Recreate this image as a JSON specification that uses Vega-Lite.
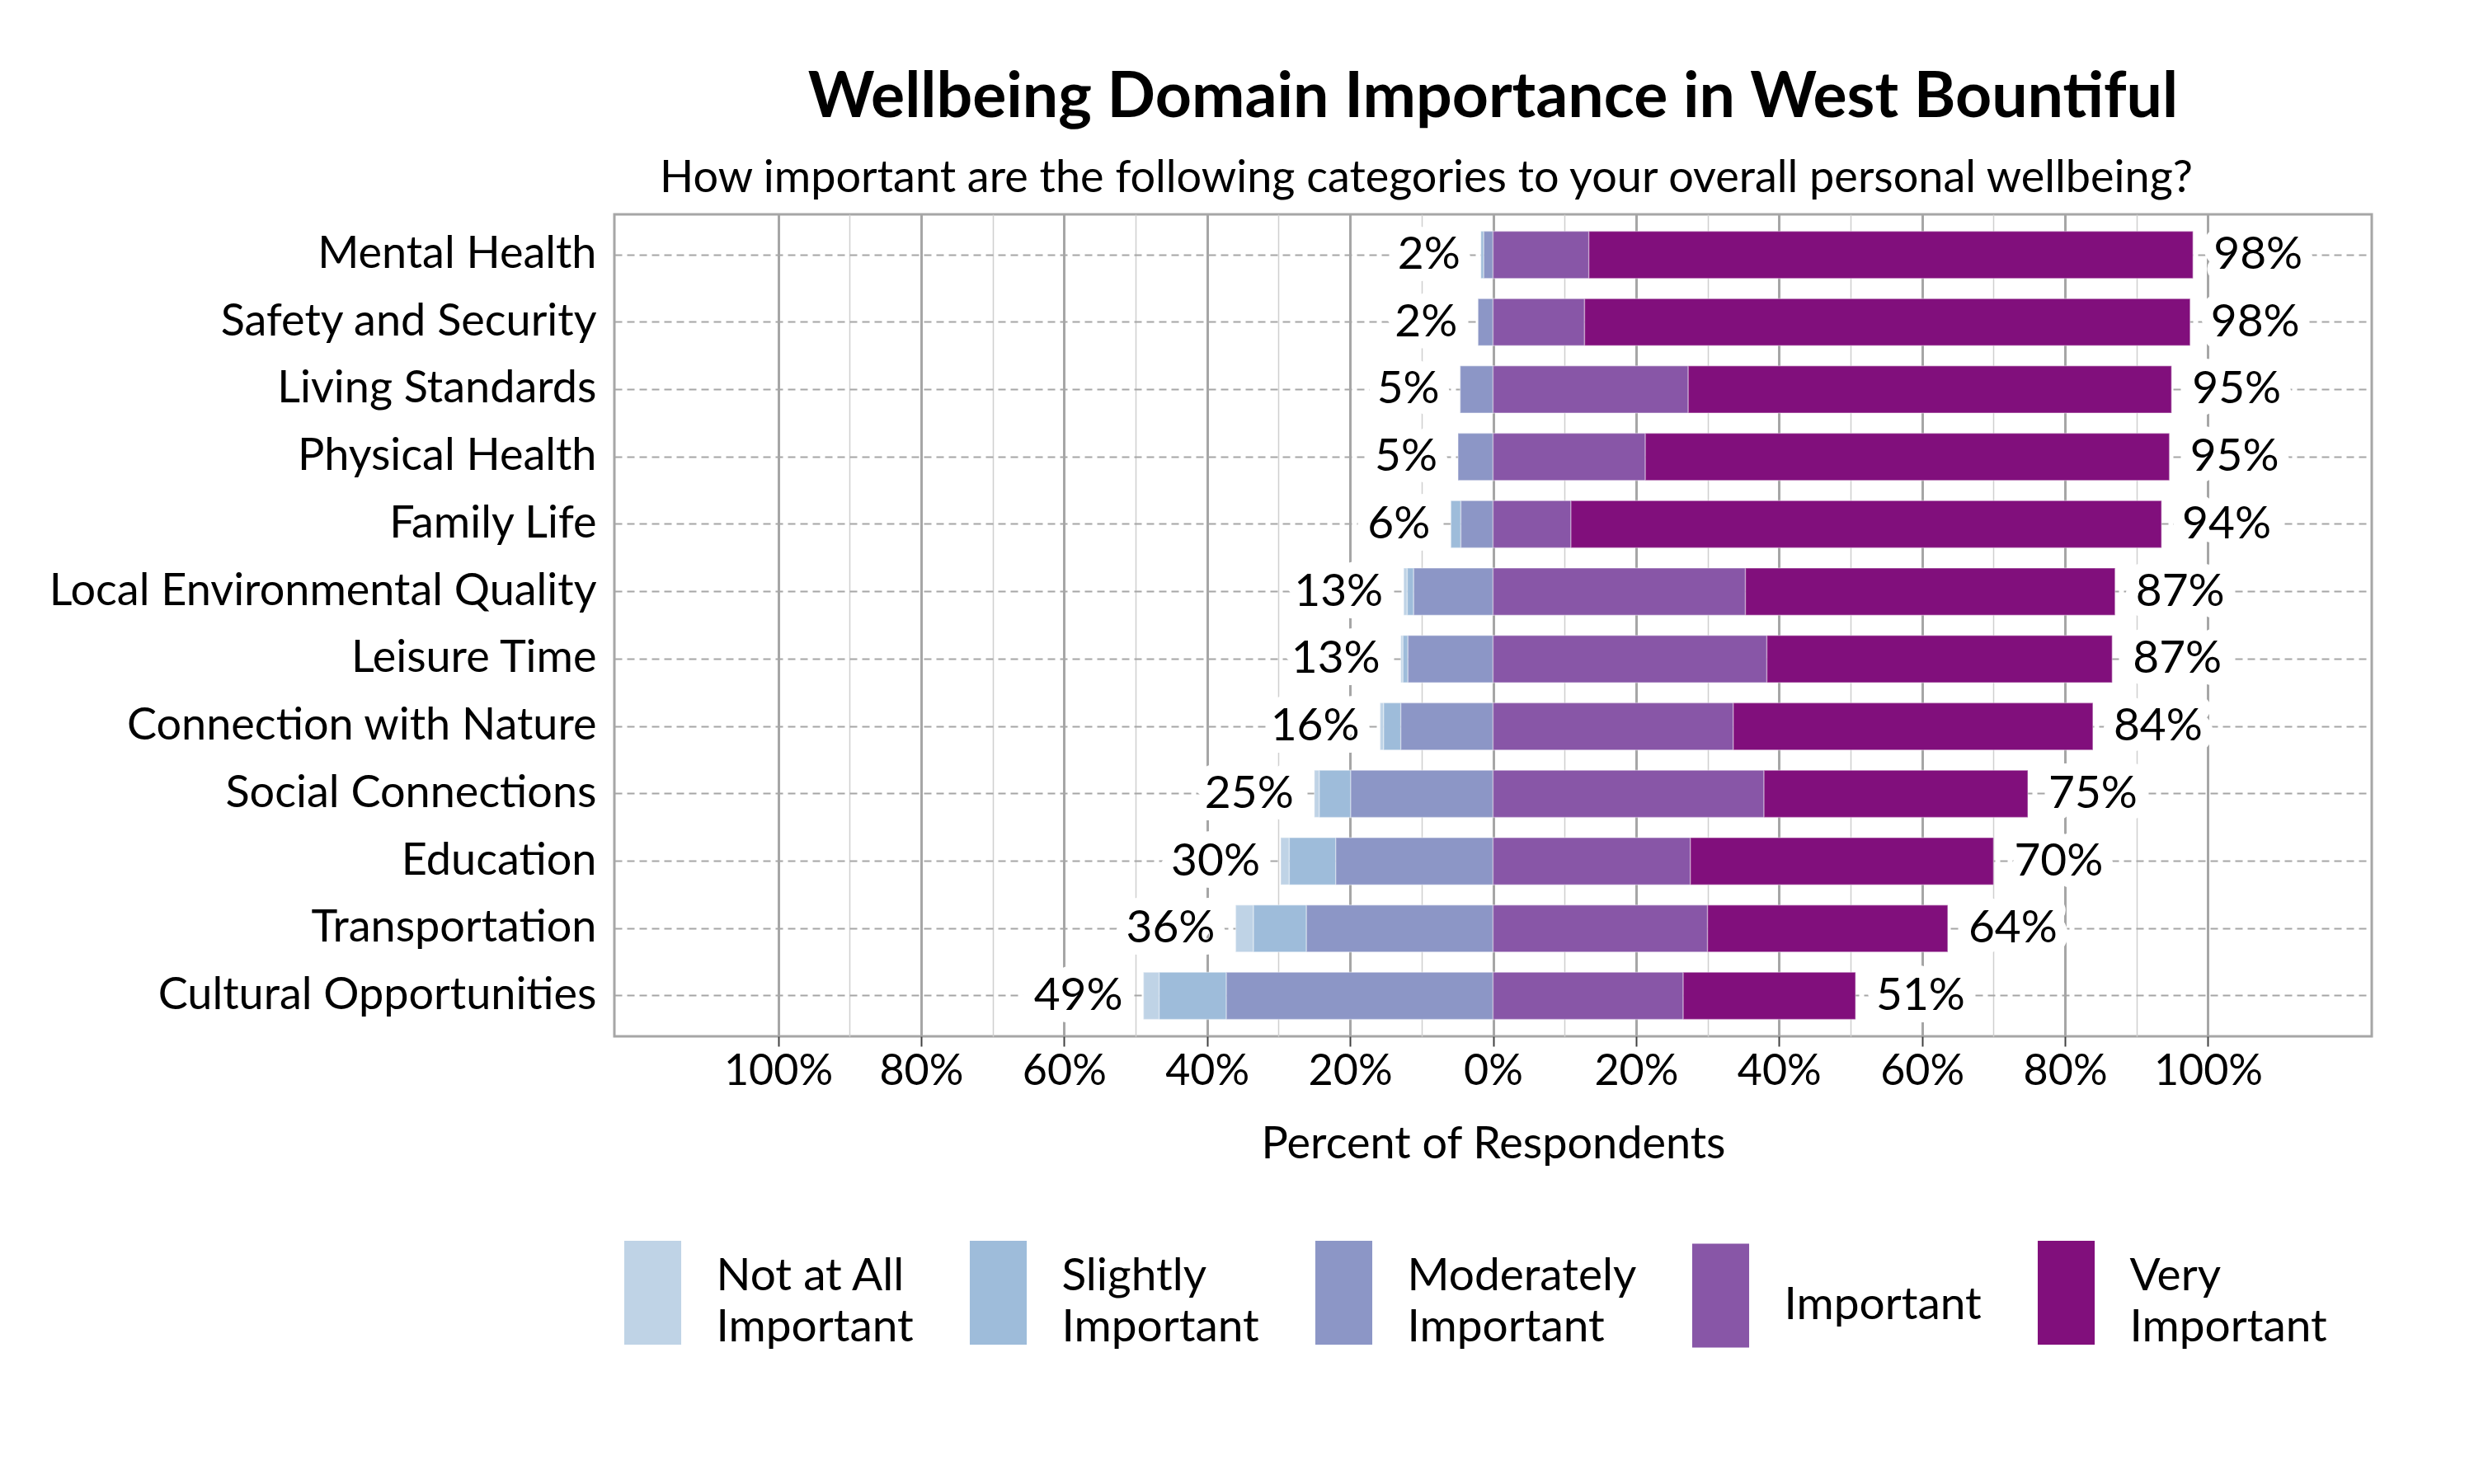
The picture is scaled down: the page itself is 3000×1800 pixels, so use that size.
{
  "$schema": "https://vega.github.io/schema/vega-lite/v6.json",
  "width": 2131,
  "height": 997,
  "autosize": {"type": "none"},
  "padding": {"left": 745, "top": 260, "right": 124, "bottom": 543},
  "background": "white",
  "config": {
    "font": "Lato",
    "view": {"stroke": "#a6a6a6", "strokeWidth": 3},
    "style": {"guide-label": {"lineHeight": 62}}
  },
  "title": {
    "text": "Wellbeing Domain Importance in West Bountiful",
    "font": "Lato",
    "fontSize": 77,
    "fontWeight": "bold",
    "color": "black",
    "anchor": "middle",
    "frame": "group",
    "offset": 31
  },
  "resolve": {"axis": {"x": "independent"}},
  "datasets": {
    "likert": [
      {"category": "Mental Health", "level": "Slightly Important", "code": 2, "pct": -0.4},
      {"category": "Mental Health", "level": "Moderately Important", "code": 3, "pct": -1.3},
      {"category": "Mental Health", "level": "Important", "code": 4, "pct": 13.4},
      {"category": "Mental Health", "level": "Very Important", "code": 5, "pct": 84.5},
      {"category": "Safety and Security", "level": "Moderately Important", "code": 3, "pct": -2.1},
      {"category": "Safety and Security", "level": "Important", "code": 4, "pct": 12.8},
      {"category": "Safety and Security", "level": "Very Important", "code": 5, "pct": 84.7},
      {"category": "Living Standards", "level": "Moderately Important", "code": 3, "pct": -4.6},
      {"category": "Living Standards", "level": "Important", "code": 4, "pct": 27.3},
      {"category": "Living Standards", "level": "Very Important", "code": 5, "pct": 67.6},
      {"category": "Physical Health", "level": "Moderately Important", "code": 3, "pct": -4.9},
      {"category": "Physical Health", "level": "Important", "code": 4, "pct": 21.3},
      {"category": "Physical Health", "level": "Very Important", "code": 5, "pct": 73.3},
      {"category": "Family Life", "level": "Slightly Important", "code": 2, "pct": -1.4},
      {"category": "Family Life", "level": "Moderately Important", "code": 3, "pct": -4.5},
      {"category": "Family Life", "level": "Important", "code": 4, "pct": 10.9},
      {"category": "Family Life", "level": "Very Important", "code": 5, "pct": 82.6},
      {"category": "Local Environmental Quality", "level": "Not at All Important", "code": 1, "pct": -0.5},
      {"category": "Local Environmental Quality", "level": "Slightly Important", "code": 2, "pct": -0.9},
      {"category": "Local Environmental Quality", "level": "Moderately Important", "code": 3, "pct": -11.1},
      {"category": "Local Environmental Quality", "level": "Important", "code": 4, "pct": 35.3},
      {"category": "Local Environmental Quality", "level": "Very Important", "code": 5, "pct": 51.7},
      {"category": "Leisure Time", "level": "Not at All Important", "code": 1, "pct": -0.3},
      {"category": "Leisure Time", "level": "Slightly Important", "code": 2, "pct": -0.7},
      {"category": "Leisure Time", "level": "Moderately Important", "code": 3, "pct": -11.9},
      {"category": "Leisure Time", "level": "Important", "code": 4, "pct": 38.3},
      {"category": "Leisure Time", "level": "Very Important", "code": 5, "pct": 48.3},
      {"category": "Connection with Nature", "level": "Not at All Important", "code": 1, "pct": -0.5},
      {"category": "Connection with Nature", "level": "Slightly Important", "code": 2, "pct": -2.4},
      {"category": "Connection with Nature", "level": "Moderately Important", "code": 3, "pct": -12.9},
      {"category": "Connection with Nature", "level": "Important", "code": 4, "pct": 33.6},
      {"category": "Connection with Nature", "level": "Very Important", "code": 5, "pct": 50.3},
      {"category": "Social Connections", "level": "Not at All Important", "code": 1, "pct": -0.7},
      {"category": "Social Connections", "level": "Slightly Important", "code": 2, "pct": -4.4},
      {"category": "Social Connections", "level": "Moderately Important", "code": 3, "pct": -19.9},
      {"category": "Social Connections", "level": "Important", "code": 4, "pct": 37.9},
      {"category": "Social Connections", "level": "Very Important", "code": 5, "pct": 36.9},
      {"category": "Education", "level": "Not at All Important", "code": 1, "pct": -1.2},
      {"category": "Education", "level": "Slightly Important", "code": 2, "pct": -6.5},
      {"category": "Education", "level": "Moderately Important", "code": 3, "pct": -22.0},
      {"category": "Education", "level": "Important", "code": 4, "pct": 27.6},
      {"category": "Education", "level": "Very Important", "code": 5, "pct": 42.4},
      {"category": "Transportation", "level": "Not at All Important", "code": 1, "pct": -2.5},
      {"category": "Transportation", "level": "Slightly Important", "code": 2, "pct": -7.4},
      {"category": "Transportation", "level": "Moderately Important", "code": 3, "pct": -26.1},
      {"category": "Transportation", "level": "Important", "code": 4, "pct": 30.0},
      {"category": "Transportation", "level": "Very Important", "code": 5, "pct": 33.6},
      {"category": "Cultural Opportunities", "level": "Not at All Important", "code": 1, "pct": -2.2},
      {"category": "Cultural Opportunities", "level": "Slightly Important", "code": 2, "pct": -9.4},
      {"category": "Cultural Opportunities", "level": "Moderately Important", "code": 3, "pct": -37.3},
      {"category": "Cultural Opportunities", "level": "Important", "code": 4, "pct": 26.6},
      {"category": "Cultural Opportunities", "level": "Very Important", "code": 5, "pct": 24.1}
    ],
    "totals": [
      {"category": "Mental Health", "negLabel": "2%", "posLabel": "98%"},
      {"category": "Safety and Security", "negLabel": "2%", "posLabel": "98%"},
      {"category": "Living Standards", "negLabel": "5%", "posLabel": "95%"},
      {"category": "Physical Health", "negLabel": "5%", "posLabel": "95%"},
      {"category": "Family Life", "negLabel": "6%", "posLabel": "94%"},
      {"category": "Local Environmental Quality", "negLabel": "13%", "posLabel": "87%"},
      {"category": "Leisure Time", "negLabel": "13%", "posLabel": "87%"},
      {"category": "Connection with Nature", "negLabel": "16%", "posLabel": "84%"},
      {"category": "Social Connections", "negLabel": "25%", "posLabel": "75%"},
      {"category": "Education", "negLabel": "30%", "posLabel": "70%"},
      {"category": "Transportation", "negLabel": "36%", "posLabel": "64%"},
      {"category": "Cultural Opportunities", "negLabel": "49%", "posLabel": "51%"}
    ]
  },
  "layer": [
    {
      "data": {"name": "likert"},
      "transform": [{"filter": "datum.pct < 0"}],
      "mark": {"type": "bar", "stroke": "white", "strokeWidth": 1.5, "strokeOpacity": 0.35},
      "encoding": {
        "x": {
          "field": "pct", "type": "quantitative", "stack": "zero",
          "title": "Percent of Respondents",
          "scale": {"domain": [-122.9, 122.9], "nice": false, "zero": false},
          "axis": {
            "values": [-100, -90, -80, -70, -60, -50, -40, -30, -20, -10, 0, 10, 20, 30, 40, 50, 60, 70, 80, 90, 100],
            "labelExpr": "datum.value % 20 == 0 ? abs(datum.value) + '%' : ''",
            "labelFontSize": 52,
            "labelColor": "black",
            "labelPadding": 5,
            "labelFlush": false,
            "labelOverlap": false,
            "titleFontSize": 54,
            "titleFontWeight": "normal",
            "titleColor": "black",
            "titlePadding": 36,
            "domain": false,
            "tickSize": 12,
            "tickWidth": 2,
            "tickColor": {"condition": {"test": "datum.value % 20 == 0", "value": "#404040"}, "value": "rgba(0,0,0,0)"},
            "grid": true,
            "gridColor": {"condition": {"test": "datum.value % 20 == 0", "value": "#a6a6a6"}, "value": "#cfcfcf"},
            "gridWidth": {"condition": {"test": "datum.value % 20 == 0", "value": 3}, "value": 1.5}
          }
        },
        "y": {
          "field": "category", "type": "nominal", "title": null,
          "sort": ["Mental Health", "Safety and Security", "Living Standards", "Physical Health", "Family Life", "Local Environmental Quality", "Leisure Time", "Connection with Nature", "Social Connections", "Education", "Transportation", "Cultural Opportunities"],
          "scale": {"paddingInner": 0.3, "paddingOuter": 0.25},
          "axis": {
            "ticks": false,
            "domain": false,
            "labelFontSize": 54,
            "labelColor": "black",
            "labelPadding": 22,
            "labelLimit": 900,
            "grid": true,
            "bandPosition": 0.5,
            "gridDash": [9, 6],
            "gridColor": "#a6a6a6",
            "gridWidth": 2
          }
        },
        "color": {
          "field": "level", "type": "nominal",
          "scale": {
            "domain": ["Not at All Important", "Slightly Important", "Moderately Important", "Important", "Very Important"],
            "range": ["#bfd3e6", "#9ebcda", "#8c96c6", "#8856a7", "#810f7c"]
          },
          "legend": {
            "orient": "none",
            "legendX": -16.5,
            "legendY": 1257,
            "direction": "horizontal",
            "title": null,
            "padding": 0,
            "symbolType": "M-0.548,-1.19H0.548V0.81H-0.548Z",
            "symbolSize": 15876,
            "symbolStrokeWidth": 0,
            "symbolOpacity": 1,
            "labelFontSize": 55,
            "labelColor": "black",
            "labelOffset": 14,
            "columnPadding": 39,
            "labelLimit": 600,
            "labelBaseline": {"expr": "datum.label == 'Important' ? 'middle' : 'line-bottom'"},
            "labelExpr": "split(replace(datum.label, ' Important', '|Important'), '|')"
          }
        },
        "order": {"field": "code", "type": "quantitative", "sort": "descending"}
      }
    },
    {
      "data": {"name": "likert"},
      "transform": [{"filter": "datum.pct > 0"}],
      "mark": {"type": "bar", "stroke": "white", "strokeWidth": 1.5, "strokeOpacity": 0.35},
      "encoding": {
        "x": {"field": "pct", "type": "quantitative", "stack": "zero", "axis": null, "scale": {"domain": [-122.9, 122.9], "nice": false, "zero": false}},
        "y": {"field": "category", "type": "nominal", "title": null, "sort": ["Mental Health", "Safety and Security", "Living Standards", "Physical Health", "Family Life", "Local Environmental Quality", "Leisure Time", "Connection with Nature", "Social Connections", "Education", "Transportation", "Cultural Opportunities"]},
        "color": {"field": "level", "type": "nominal"},
        "order": {"field": "code", "type": "quantitative", "sort": "ascending"}
      }
    },
    {
      "mark": {"type": "rule", "color": "#5a5a5a", "strokeWidth": 2.5},
      "encoding": {
        "x": {
          "datum": 0, "type": "quantitative",
          "scale": {"domain": [-122.9, 122.9], "nice": false, "zero": false},
          "axis": {
            "orient": "top",
            "title": "How important are the following categories to your overall personal wellbeing?",
            "titleFontSize": 54,
            "titleFontWeight": "normal",
            "titleColor": "black",
            "titlePadding": 17,
            "titleX": 984,
            "titleAlign": "center",
            "labels": false,
            "ticks": false,
            "domain": false,
            "grid": false
          }
        }
      }
    },
    {
      "data": {"name": "likert"},
      "transform": [
        {"filter": "datum.pct < 0"},
        {"aggregate": [{"op": "sum", "field": "pct", "as": "pct"}], "groupby": ["category"]},
        {"lookup": "category", "from": {"data": {"name": "totals"}, "key": "category", "fields": ["negLabel"]}}
      ],
      "mark": {"type": "text", "align": "right", "baseline": "middle", "dx": -25, "fontSize": 55, "color": "white", "stroke": "white", "strokeWidth": 30, "strokeJoin": "round"},
      "encoding": {
        "x": {"field": "pct", "type": "quantitative", "stack": null, "axis": null, "scale": {"domain": [-122.9, 122.9], "nice": false, "zero": false}},
        "y": {"field": "category", "type": "nominal", "title": null, "sort": ["Mental Health", "Safety and Security", "Living Standards", "Physical Health", "Family Life", "Local Environmental Quality", "Leisure Time", "Connection with Nature", "Social Connections", "Education", "Transportation", "Cultural Opportunities"]},
        "text": {"field": "negLabel"}
      }
    },
    {
      "data": {"name": "likert"},
      "transform": [
        {"filter": "datum.pct < 0"},
        {"aggregate": [{"op": "sum", "field": "pct", "as": "pct"}], "groupby": ["category"]},
        {"lookup": "category", "from": {"data": {"name": "totals"}, "key": "category", "fields": ["negLabel"]}}
      ],
      "mark": {"type": "text", "align": "right", "baseline": "middle", "dx": -25, "fontSize": 55, "color": "black"},
      "encoding": {
        "x": {"field": "pct", "type": "quantitative", "stack": null, "axis": null, "scale": {"domain": [-122.9, 122.9], "nice": false, "zero": false}},
        "y": {"field": "category", "type": "nominal", "title": null, "sort": ["Mental Health", "Safety and Security", "Living Standards", "Physical Health", "Family Life", "Local Environmental Quality", "Leisure Time", "Connection with Nature", "Social Connections", "Education", "Transportation", "Cultural Opportunities"]},
        "text": {"field": "negLabel"}
      }
    },
    {
      "data": {"name": "likert"},
      "transform": [
        {"filter": "datum.pct > 0"},
        {"aggregate": [{"op": "sum", "field": "pct", "as": "pct"}], "groupby": ["category"]},
        {"lookup": "category", "from": {"data": {"name": "totals"}, "key": "category", "fields": ["posLabel"]}}
      ],
      "mark": {"type": "text", "align": "left", "baseline": "middle", "dx": 25, "fontSize": 55, "color": "white", "stroke": "white", "strokeWidth": 30, "strokeJoin": "round"},
      "encoding": {
        "x": {"field": "pct", "type": "quantitative", "stack": null, "axis": null, "scale": {"domain": [-122.9, 122.9], "nice": false, "zero": false}},
        "y": {"field": "category", "type": "nominal", "title": null, "sort": ["Mental Health", "Safety and Security", "Living Standards", "Physical Health", "Family Life", "Local Environmental Quality", "Leisure Time", "Connection with Nature", "Social Connections", "Education", "Transportation", "Cultural Opportunities"]},
        "text": {"field": "posLabel"}
      }
    },
    {
      "data": {"name": "likert"},
      "transform": [
        {"filter": "datum.pct > 0"},
        {"aggregate": [{"op": "sum", "field": "pct", "as": "pct"}], "groupby": ["category"]},
        {"lookup": "category", "from": {"data": {"name": "totals"}, "key": "category", "fields": ["posLabel"]}}
      ],
      "mark": {"type": "text", "align": "left", "baseline": "middle", "dx": 25, "fontSize": 55, "color": "black"},
      "encoding": {
        "x": {"field": "pct", "type": "quantitative", "stack": null, "axis": null, "scale": {"domain": [-122.9, 122.9], "nice": false, "zero": false}},
        "y": {"field": "category", "type": "nominal", "title": null, "sort": ["Mental Health", "Safety and Security", "Living Standards", "Physical Health", "Family Life", "Local Environmental Quality", "Leisure Time", "Connection with Nature", "Social Connections", "Education", "Transportation", "Cultural Opportunities"]},
        "text": {"field": "posLabel"}
      }
    }
  ]
}
